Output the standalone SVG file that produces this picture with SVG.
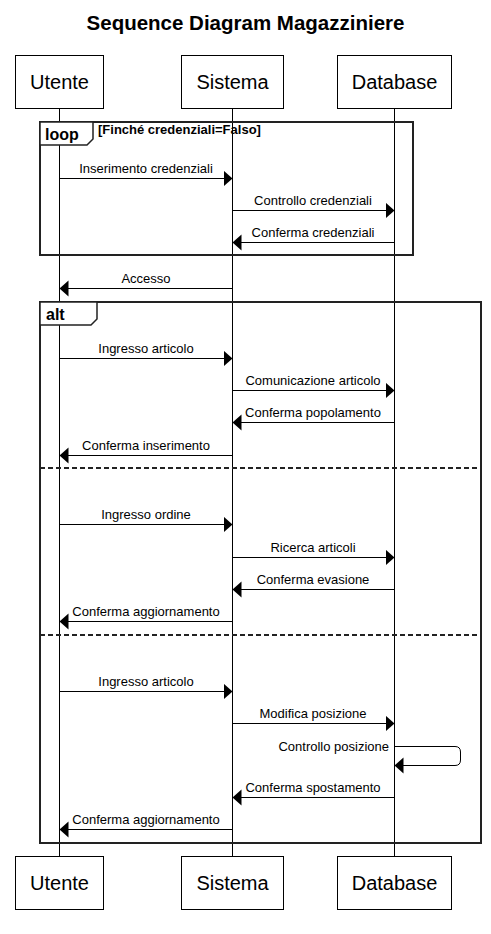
<svg xmlns="http://www.w3.org/2000/svg" width="491" height="934" viewBox="0 0 491 934">
<defs>
<marker id="ah" markerWidth="10" markerHeight="18" refX="9" refY="8" orient="auto" markerUnits="userSpaceOnUse">
<path d="M0,0 L9,8 L0,16 Z" fill="#000"/>
</marker>
</defs>
<style>
.pbox{fill:#fff;stroke:#000;stroke-width:1}
.plabel{font-family:"Liberation Sans",Arial,sans-serif;font-size:20px;text-anchor:middle;fill:#000}
.life{stroke:#000;stroke-width:1}
.msg{stroke:#000;stroke-width:1;fill:none;marker-end:url(#ah)}
.mlabel{font-family:"Liberation Sans",Arial,sans-serif;font-size:13px;text-anchor:middle;fill:#000}
.frame{fill:none;stroke:#222;stroke-width:2}
.tab{fill:#fff;stroke:#222;stroke-width:1.5}
.flabel{font-family:"Liberation Sans",Arial,sans-serif;font-size:16px;font-weight:bold;fill:#000}
.guard{font-family:"Liberation Sans",Arial,sans-serif;font-size:13px;font-weight:bold;fill:#000}
.sep{stroke:#222;stroke-width:2;stroke-dasharray:5,3}
.title{font-family:"Liberation Sans",Arial,sans-serif;font-size:20.5px;font-weight:bold;text-anchor:middle;fill:#000}
</style>
<rect width="491" height="934" fill="#fff"/>
<text class="title" x="245.5" y="30">Sequence Diagram Magazziniere</text>

<g id="lifelines">
<line class="life" x1="59.5" y1="108" x2="59.5" y2="856"/>
<line class="life" x1="232.5" y1="108" x2="232.5" y2="856"/>
<line class="life" x1="394.5" y1="108" x2="394.5" y2="856"/>
</g>

<g id="utente">
<rect class="pbox" x="15.5" y="55.5" width="88" height="53"/>
<text class="plabel" x="59.5" y="89">Utente</text>
<rect class="pbox" x="15.5" y="856.5" width="88" height="53"/>
<text class="plabel" x="59.5" y="890">Utente</text>
</g>
<g id="sistema">
<rect class="pbox" x="181.5" y="55.5" width="102" height="53"/>
<text class="plabel" x="232.5" y="89">Sistema</text>
<rect class="pbox" x="181.5" y="856.5" width="102" height="53"/>
<text class="plabel" x="232.5" y="890">Sistema</text>
</g>
<g id="database">
<rect class="pbox" x="337.5" y="55.5" width="114" height="53"/>
<text class="plabel" x="394.5" y="89">Database</text>
<rect class="pbox" x="337.5" y="856.5" width="114" height="53"/>
<text class="plabel" x="394.5" y="890">Database</text>
</g>

<g id="loop-frame">
<rect class="frame" x="40" y="122" width="373" height="133"/>
<path class="tab" d="M40,122 H93 V139 L87,145 H40 Z"/>
<text class="flabel" x="45" y="140">loop</text>
<text class="guard" x="98" y="134">[Finché credenziali=Falso]</text>
</g>

<g id="alt-frame">
<rect class="frame" x="40" y="302" width="441" height="541"/>
<path class="tab" d="M40,302 H97 V319 L91,325 H40 Z"/>
<text class="flabel" x="46" y="320">alt</text>
<line class="sep" x1="40" y1="468" x2="481" y2="468"/>
<line class="sep" x1="40" y1="635" x2="481" y2="635"/>
</g>

<g id="connectors">
<line class="msg" x1="59.5" y1="178.5" x2="232.5" y2="178.5"/>
<text class="mlabel" x="146" y="173">Inserimento credenziali</text>
<line class="msg" x1="232.5" y1="210.5" x2="394.5" y2="210.5"/>
<text class="mlabel" x="313" y="205">Controllo credenziali</text>
<line class="msg" x1="394.5" y1="242.5" x2="232.5" y2="242.5"/>
<text class="mlabel" x="313" y="237">Conferma credenziali</text>
<line class="msg" x1="232.5" y1="288.5" x2="59.5" y2="288.5"/>
<text class="mlabel" x="146" y="283">Accesso</text>

<line class="msg" x1="59.5" y1="358.5" x2="232.5" y2="358.5"/>
<text class="mlabel" x="146" y="353">Ingresso articolo</text>
<line class="msg" x1="232.5" y1="390.5" x2="394.5" y2="390.5"/>
<text class="mlabel" x="313" y="385">Comunicazione articolo</text>
<line class="msg" x1="394.5" y1="422.5" x2="232.5" y2="422.5"/>
<text class="mlabel" x="313" y="417">Conferma popolamento</text>
<line class="msg" x1="232.5" y1="455.5" x2="59.5" y2="455.5"/>
<text class="mlabel" x="146" y="450">Conferma inserimento</text>

<line class="msg" x1="59.5" y1="524.5" x2="232.5" y2="524.5"/>
<text class="mlabel" x="146" y="519">Ingresso ordine</text>
<line class="msg" x1="232.5" y1="557.5" x2="394.5" y2="557.5"/>
<text class="mlabel" x="313" y="552">Ricerca articoli</text>
<line class="msg" x1="394.5" y1="589.5" x2="232.5" y2="589.5"/>
<text class="mlabel" x="313" y="584">Conferma evasione</text>
<line class="msg" x1="232.5" y1="621.5" x2="59.5" y2="621.5"/>
<text class="mlabel" x="146" y="616">Conferma aggiornamento</text>

<line class="msg" x1="59.5" y1="691.5" x2="232.5" y2="691.5"/>
<text class="mlabel" x="146" y="686">Ingresso articolo</text>
<line class="msg" x1="232.5" y1="723.5" x2="394.5" y2="723.5"/>
<text class="mlabel" x="313" y="718">Modifica posizione</text>
<path class="msg" d="M394.5,746.5 H455 Q460.5,746.5 460.5,752 V760 Q460.5,765.5 455,765.5 H394.5"/>
<text class="mlabel" x="389" y="751" style="text-anchor:end">Controllo posizione</text>
<line class="msg" x1="394.5" y1="797.5" x2="232.5" y2="797.5"/>
<text class="mlabel" x="313" y="792">Conferma spostamento</text>
<line class="msg" x1="232.5" y1="829.5" x2="59.5" y2="829.5"/>
<text class="mlabel" x="146" y="824">Conferma aggiornamento</text>
</g>
</svg>
